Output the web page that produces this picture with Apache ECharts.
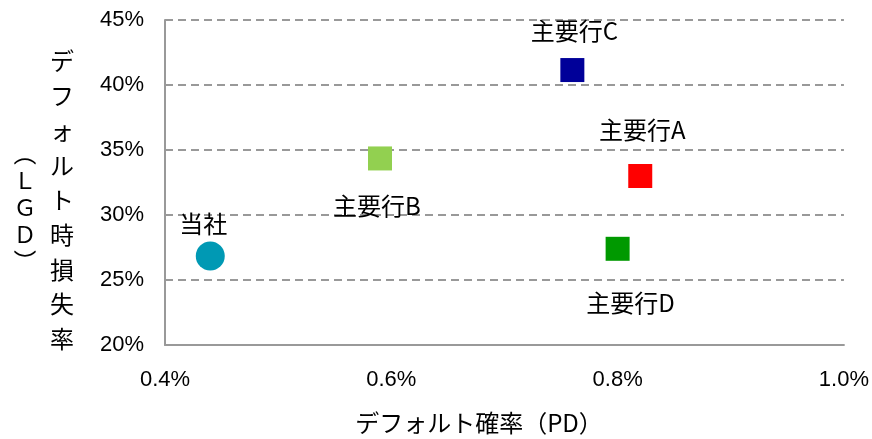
<!DOCTYPE html>
<html>
<head>
<meta charset="utf-8">
<script src="https://cdn.jsdelivr.net/npm/echarts@6/dist/echarts.min.js"></script>
<style>
  html, body { margin: 0; padding: 0; background: #fff; }
  #chart { width: 872px; height: 439px; }
</style>
</head>
<body>
<div id="chart"></div>
<script>
// データ（PD: %, LGD: %）
var names = ['当社', '主要行B', '主要行C', '主要行A', '主要行D']
var pdValues = [0.44, 0.59, 0.76, 0.82, 0.80]
var lgdValues = [26.85, 34.35, 41.15, 33.0, 27.4]
var colors = ['#0099b4', '#92d050', '#000099', '#ff0000', '#009900']
var xTicks = [0.4, 0.6, 0.8, 1.0]
var yTicks = [20, 25, 30, 35, 40, 45]

var fontJa = '"Noto Sans CJK JP", sans-serif'
var fontNum = '"Liberation Sans", Arial, sans-serif'

// ラベルの位置（マーカーからのずれ）
var labelOffsets = [[-7, -32], [-3, 47], [2, -39], [2, -46], [13, 54]]

var chart = echarts.init(document.getElementById('chart'))

var points = names.map(function (n, i) {
  return {
    name: n,
    value: [pdValues[i], lgdValues[i]],
    symbol: i === 0 ? 'circle' : 'rect',
    symbolSize: i === 0 ? 29 : 24,
    itemStyle: { color: colors[i], opacity: 1 },
    label: {
      show: true,
      position: 'inside',
      offset: labelOffsets[i],
      formatter: '{b}',
      color: '#000',
      fontSize: 24,
      fontFamily: fontJa
    }
  }
})

chart.setOption({
  animation: false,
  backgroundColor: '#fff',
  grid: { left: 165, right: 27, top: 20, bottom: 94 },
  xAxis: {
    type: 'value',
    min: xTicks[0],
    max: xTicks[xTicks.length - 1],
    interval: 0.2,
    axisLine: { lineStyle: { color: '#999', width: 2 } },
    axisTick: { show: false },
    splitLine: { show: false },
    axisLabel: {
      color: '#000',
      fontSize: 22,
      fontFamily: fontNum,
      margin: 24,
      formatter: function (v) { return v.toFixed(1) + '%' }
    }
  },
  yAxis: {
    type: 'value',
    min: yTicks[0],
    max: yTicks[yTicks.length - 1],
    interval: 5,
    axisLine: { show: true, lineStyle: { color: '#999', width: 2 } },
    axisTick: { show: false },
    splitLine: { lineStyle: { color: '#999', width: 2, type: [8, 5] } },
    axisLabel: {
      color: '#000',
      fontSize: 22,
      fontFamily: fontNum,
      margin: 21,
      formatter: '{value}%'
    }
  },
  graphic: [
    {
      type: 'text',
      x: 479,
      y: 411,
      style: {
        text: 'デフォルト確率（PD）',
        fill: '#000',
        font: '24px ' + fontJa,
        align: 'center'
      }
    },
    {
      type: 'text',
      x: 62,
      y: 44,
      style: {
        text: 'デ\nフ\nォ\nル\nト\n時\n損\n失\n率',
        fill: '#000',
        font: '24px ' + fontJa,
        lineHeight: 34.7,
        align: 'center'
      }
    },
    {
      type: 'text',
      x: 25,
      y: 140,
      style: {
        text: '︵\nＬ\nＧ\nＤ\n︶',
        fill: '#000',
        font: '23px ' + fontJa,
        lineHeight: 27,
        align: 'center'
      }
    }
  ],
  series: [
    {
      type: 'scatter',
      data: points
    }
  ]
})
</script>
</body>
</html>
